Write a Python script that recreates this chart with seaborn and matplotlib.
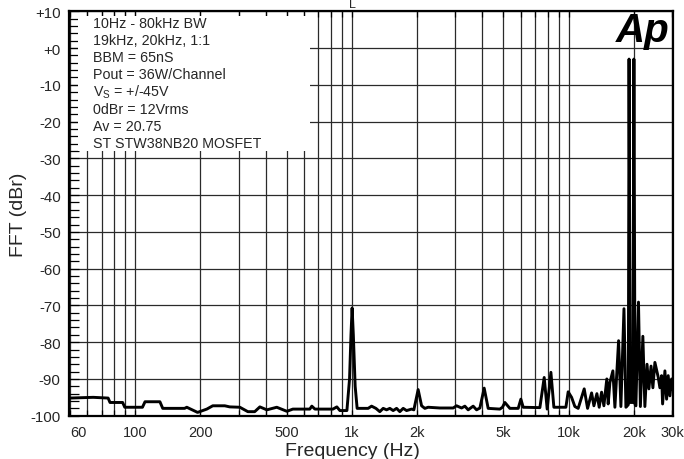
import pandas as pd
import seaborn as sns
import matplotlib.pyplot as plt
from matplotlib.patches import Rectangle
from matplotlib.ticker import FixedLocator, LogLocator, NullFormatter

# FFT trace (Hz, dBr)
freq = [
    50, 64, 75, 76.5, 87.5, 89.5, 108, 111, 130, 134, 169, 173, 194, 214,
    228, 259, 273, 304, 331, 356, 376, 405, 450, 501, 534, 639, 653, 675,
    817, 852, 880, 948, 975, 990, 1002, 1015, 1035, 1057, 1188, 1232, 1290,
    1345, 1394, 1445, 1496, 1550, 1607, 1664, 1724, 1787, 1885, 1931, 2021,
    2096, 2170, 2248, 2546, 2932, 3040, 3206, 3320, 3438, 3626, 3760, 3894,
    4076, 4253, 4815, 4950, 5078, 5356, 5851, 6020, 6170, 7366, 7712, 7961,
    8281, 8548, 9710, 9950, 10316, 10683, 11066, 11797, 12228, 12762, 13078,
    13500, 13834, 14191, 14542, 15000, 15222, 15498, 16000, 16346, 17000,
    17420, 18000, 18375, 18850, 19000, 19250, 19780, 20000, 20250, 20433,
    21000, 21428, 22000, 22476, 23000, 23454, 24000, 24474, 25000, 25457,
    25893, 26367, 26850, 27136, 27807, 28312, 28799, 29325, 29858, 30300,
]
fft_dbr = [
    -95.2, -95.0, -95.2, -96.4, -96.4, -97.7, -97.7, -96.2, -96.2, -98.0,
    -98.0, -97.7, -99.1, -98.2, -97.3, -97.3, -97.6, -97.7, -98.9, -98.9,
    -97.6, -98.4, -97.7, -98.8, -98.2, -98.2, -97.4, -98.2, -98.2, -97.6,
    -98.6, -98.6, -90.0, -78.0, -70.7, -78.0, -92.0, -98.0, -98.0, -97.4,
    -98.0, -98.9, -98.0, -98.4, -98.0, -98.6, -98.0, -98.9, -98.0, -98.6,
    -98.2, -98.4, -92.9, -97.3, -98.0, -97.7, -97.9, -97.9, -97.3, -97.9,
    -97.4, -98.4, -97.4, -98.4, -97.9, -92.5, -98.0, -98.2, -97.7, -96.4,
    -98.0, -98.0, -95.5, -97.7, -97.8, -89.6, -98.2, -88.2, -97.7, -97.7,
    -93.5, -95.0, -97.5, -98.0, -92.7, -98.0, -93.8, -97.3, -94.0, -97.7,
    -93.6, -97.3, -90.0, -96.8, -91.0, -87.8, -97.7, -79.6, -97.5, -70.9,
    -97.7, -97.0, -3.0, -96.4, -96.4, -3.0, -97.0, -97.3, -69.1, -97.5,
    -78.4, -97.5, -86.0, -92.7, -86.5, -92.4, -85.5, -87.5, -89.5, -92.4,
    -89.1, -96.8, -87.8, -95.5, -89.1, -94.6, -90.0, -93.0,
]

x_ticks = [60, 100, 200, 500, 1000, 2000, 5000, 10000, 20000, 30000]
x_labels = ["60", "100", "200", "500", "1k", "2k", "5k", "10k", "20k", "30k"]
y_ticks = list(range(-100, 11, 10))
y_labels = ["+10" if v == 10 else "+0" if v == 0 else str(v) for v in y_ticks]

notes = [
    "10Hz - 80kHz BW",
    "19kHz, 20kHz, 1:1",
    "BBM = 65nS",
    "Pout = 36W/Channel",
    "V$_\\mathrm{S}$ = +/-45V",
    "0dBr = 12Vrms",
    "Av = 20.75",
    "ST STW38NB20 MOSFET",
]

df = pd.DataFrame({"freq": freq, "dbr": fft_dbr})

sns.set_theme(style="white")
plt.rcParams["font.family"] = ["Liberation Sans", "DejaVu Sans"]
plt.rcParams["mathtext.fontset"] = "custom"
plt.rcParams["mathtext.rm"] = "Liberation Sans"
plt.rcParams["mathtext.it"] = "Liberation Sans:italic"

fig = plt.figure(figsize=(6.84, 4.6), dpi=100)
ax = fig.add_axes([0.1009, 0.0941, 0.8830, 0.8792])

sns.lineplot(data=df, x="freq", y="dbr", ax=ax, color="black", lw=2.1,
             estimator=None, sort=False, zorder=3)

ax.set_xscale("log")
ax.set_xlim(49.5, 30300)
ax.set_ylim(-100, 10)

ax.xaxis.set_major_locator(FixedLocator(x_ticks))
ax.set_xticklabels(x_labels)
ax.xaxis.set_minor_locator(LogLocator(base=10, subs=range(1, 10), numticks=20))
ax.xaxis.set_minor_formatter(NullFormatter())
ax.set_yticks(y_ticks)
ax.set_yticklabels(y_labels)
ax.set_yticks(range(-100, 11, 2), minor=True)

ax.grid(True, which="major", axis="both", color="#2a2a2a", lw=0.9)
ax.grid(True, which="minor", axis="x", color="#2a2a2a", lw=0.9)
ax.tick_params(axis="x", which="both", direction="in", top=True, bottom=True,
               length=4, width=0.9, color="black", labelsize=10.5, pad=7)
ax.tick_params(axis="y", which="both", direction="in", left=True, right=False,
               length=7, width=0.9, color="black", labelsize=10.8, pad=6)
ax.get_xticklabels()[0].set_ha("right")

for s in ax.spines.values():
    s.set_color("black")
    s.set_linewidth(1.6)

# white note box over the grid
ax.add_patch(Rectangle((0.015, 0.655), 0.384, 0.333, transform=ax.transAxes,
                       facecolor="white", edgecolor="none", zorder=1.8))
for i, line in enumerate(notes):
    ax.text(0.0397, 0.971 - i * 0.0423, line, transform=ax.transAxes,
            fontsize=10.3, va="center", ha="left", zorder=4)

ax.text(0.995, 1.0, "Ap", transform=ax.transAxes, fontsize=29,
        fontweight="bold", fontstyle="italic", ha="right", va="top", zorder=4,
        color="black")
fig.text(352 / 684, 1 - 5 / 460, "L", fontsize=9, ha="center", va="center")

ax.set_xlabel("Frequency (Hz)", fontsize=14)
ax.set_ylabel("FFT (dBr)", fontsize=14)
ax.xaxis.set_label_coords((352 - 69) / 604, -0.066)
ax.yaxis.set_label_coords(-0.0695, 0.5)

plt.savefig("out.png", dpi=100)
